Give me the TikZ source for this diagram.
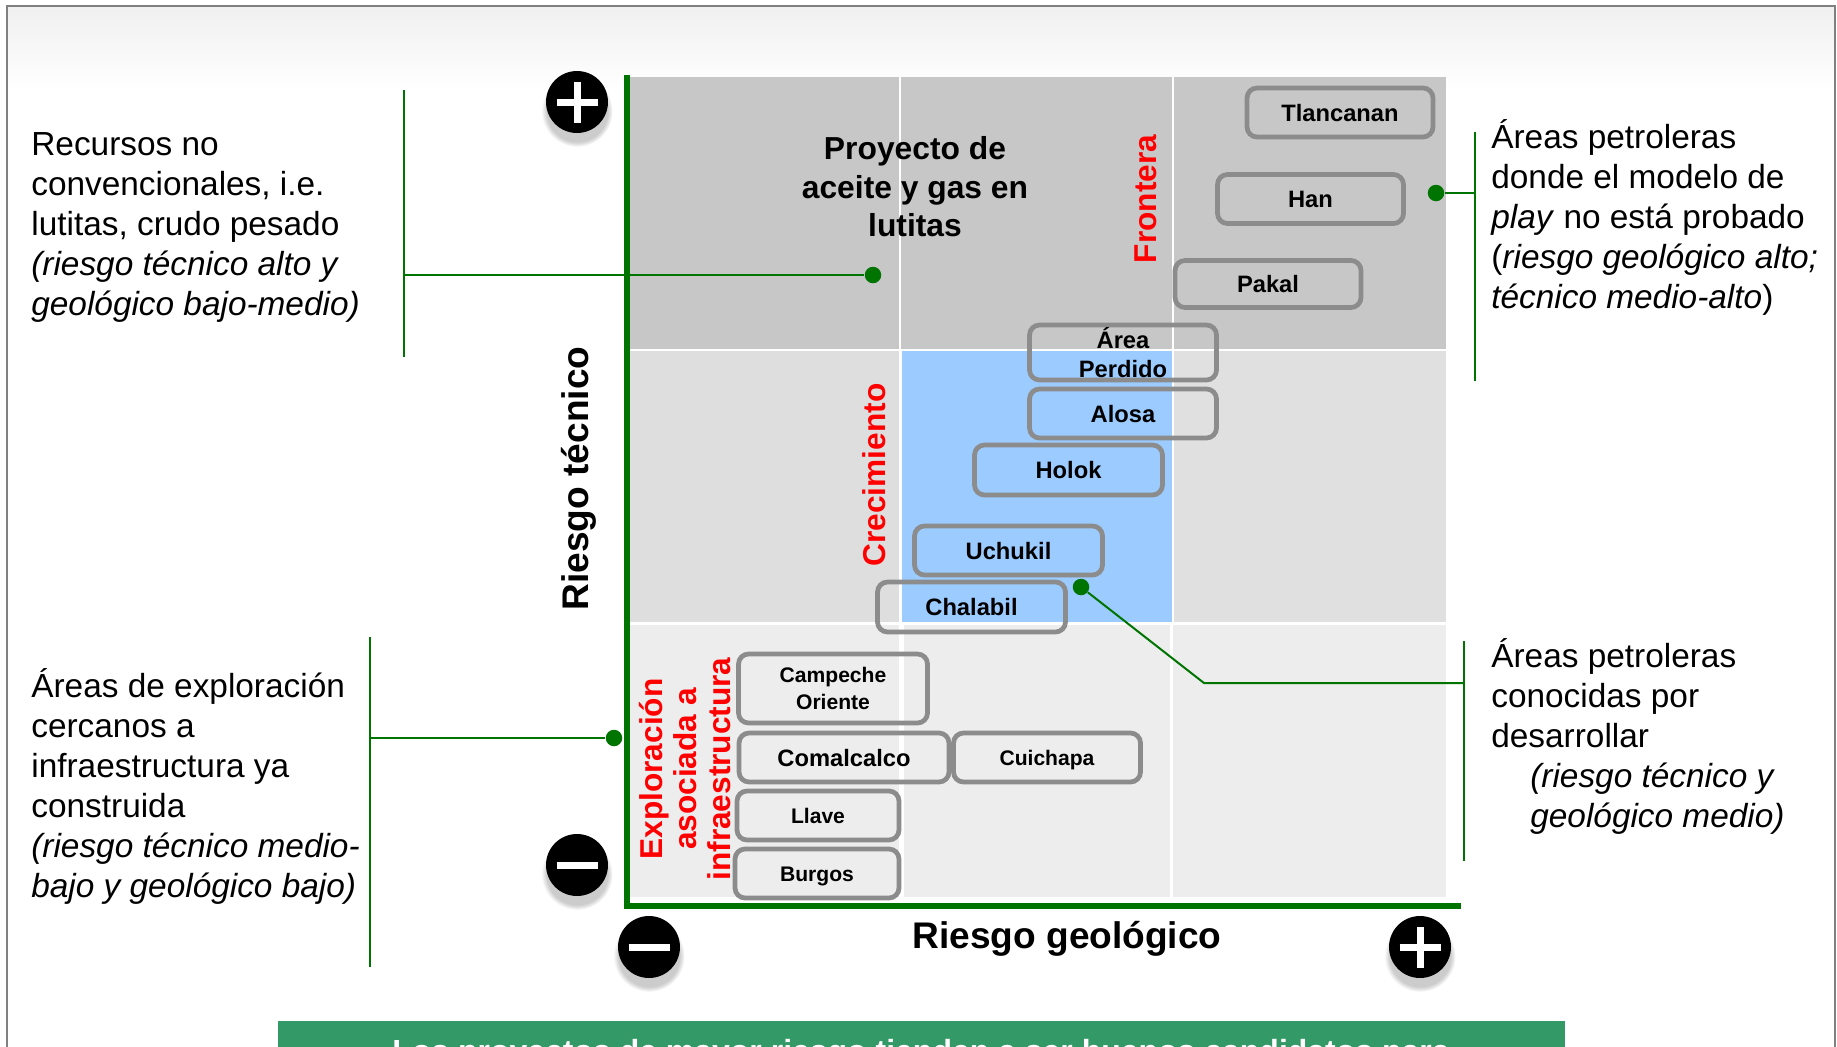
\documentclass[tikz,border=0pt]{standalone}
\usepackage{fontspec}
\setmainfont{Liberation Sans}
\usepackage{tikz}
\usetikzlibrary{shadows}
\definecolor{axisgreen}{HTML}{007400}
\definecolor{boxgray}{HTML}{8C8C8C}
\definecolor{bannergreen}{HTML}{339966}
\definecolor{cellblue}{HTML}{9CCBFF}
\newcommand{\boxline}{0.095cm}
\newcommand{\signbar}{0.14cm}
\tikzset{
  riskbox/.style={draw=boxgray, line width=\boxline, rounded corners=0.2cm, inner sep=0pt, align=center, font=\bfseries\fontsize{13.5}{16.4}\selectfont},
  smallbox/.style={riskbox, font=\bfseries\fontsize{12}{14.9}\selectfont},
  riskline/.style={riskbox, text height=0.34cm, text depth=0pt},
  smallline/.style={smallbox, text height=0.3cm, text depth=0pt},
  sidetext/.style={inner sep=0pt, anchor=west, align=left, font=\fontsize{19}{22.7}\selectfont},
  zonetext/.style={inner sep=0pt, text=red, rotate=90, align=center, font=\bfseries\fontsize{18}{19.6}\selectfont},
  axistext/.style={inner sep=0pt, font=\bfseries\fontsize{21.1}{25}\selectfont},
  leader/.style={draw=axisgreen, line width=0.04cm},
  leaderdot/.style={circle, fill=axisgreen, inner sep=0pt, minimum size=0.33cm},
  signball/.style={circle, fill=black, inner sep=0pt, minimum size=1.24cm,
    circular drop shadow={shadow xshift=0cm, shadow yshift=-0.16cm, shadow scale=1.15, opacity=0.4}},
  signstroke/.style={draw=white, line width=\signbar}
}
\begin{document}
\begin{tikzpicture}[x=0.02cm,y=-0.02cm]
\useasboundingbox (0,0) rectangle (1837,1046);
\clip (0,0) rectangle (1837,1046);
% frame
\fill[white] (0,0) rectangle (1837,1046);
\shade[top color=black!6, bottom color=white] (7,6) rectangle (1835,90);
\draw[black!50, line width=0.05cm] (7,1050) -- (7,6) -- (1835,6) -- (1835,1050);
% cells
\fill[black!22] (630,77) rectangle (899,349);
\fill[black!22] (901,77) rectangle (1172,349);
\fill[black!22] (1174,77) rectangle (1446,349);
\fill[black!13] (630,351) rectangle (899,622);
\fill[cellblue] (901.5,351) rectangle (1172,622);
\fill[black!12] (1174,351) rectangle (1446,622);
\fill[black!7] (630,625) rectangle (899,897);
\fill[black!7] (904,625) rectangle (1170,897);
\fill[black!7] (1173,625) rectangle (1446,897);
% axes
\draw[axisgreen, line width=0.12cm] (627,75) -- (627,906) -- (1461,906);
% leaders
\coordinate (tlbot) at (404,357);
\coordinate (tltop) at (404,90);
\coordinate (tlmid) at (404,275);
\coordinate (blbot) at (370,967);
\coordinate (bltop) at (370,637);
\coordinate (blmid) at (370,738);
\coordinate (trbot) at (1475,381);
\coordinate (trtop) at (1475,132);
\coordinate (trmid) at (1475,193);
\coordinate (brbot) at (1464,861);
\coordinate (brtop) at (1464,641);
\coordinate (brmid) at (1464,683);
\coordinate (brbend) at (1204,683);
\node[leaderdot] (tldot) at (873,275) {};
\node[leaderdot] (bldot) at (614,738) {};
\node[leaderdot] (trdot) at (1436,193) {};
\node[leaderdot] (brdot) at (1081,587) {};
\draw[leader] (tltop) -- (tlbot);
\draw[leader] (tlmid) -- (tldot);
\draw[leader] (bltop) -- (blbot);
\draw[leader] (blmid) -- (bldot);
\draw[leader] (trtop) -- (trbot);
\draw[leader] (trmid) -- (trdot);
\draw[leader] (brtop) -- (brbot);
\draw[leader] (brmid) -- (brbend) -- (brdot);
% boxes
\node[riskline, minimum width=3.72cm, minimum height=0.98cm] (tlancanan) at (1340,112.5) {Tlancanan};
\node[riskline, minimum width=3.72cm, minimum height=0.98cm] (han) at (1310.5,199) {Han};
\node[riskline, minimum width=3.72cm, minimum height=0.94cm] (pakal) at (1268,284) {Pakal};
\node[riskbox, minimum width=3.74cm, minimum height=1.1cm] (perdido) at (1123,352.5) {Área\\Perdido};
\node[riskline, minimum width=3.74cm, minimum height=0.98cm] (alosa) at (1123,413.5) {Alosa};
\node[riskline, minimum width=3.76cm, minimum height=1cm] (holok) at (1068.5,470) {Holok};
\node[riskline, minimum width=3.76cm, minimum height=0.98cm] (uchukil) at (1008.5,550.5) {Uchukil};
\node[riskline, minimum width=3.76cm, minimum height=1cm] (chalabil) at (971.5,607) {Chalabil};
\node[smallbox, minimum width=3.78cm, minimum height=1.38cm] (campeche) at (833,688.5) {Campeche\\Oriente};
\node[riskline, minimum width=4.2cm, minimum height=0.98cm] (comalcalco) at (844,757.5) {Comalcalco};
\node[smallline, minimum width=3.74cm, minimum height=0.98cm] (cuichapa) at (1047,757.5) {Cuichapa};
\node[smallline, minimum width=3.24cm, minimum height=0.98cm] (llave) at (818,815.5) {Llave};
\node[smallline, minimum width=3.28cm, minimum height=0.98cm] (burgos) at (817,873.5) {Burgos};
% zone labels
\node[inner sep=0pt, align=center, font=\bfseries\fontsize{18.1}{21.9}\selectfont] (shale) at (915,187) {Proyecto de\\aceite y gas en\\lutitas};
\node[zonetext] (frontera) at (1146,199) {Frontera};
\node[zonetext] (crecimiento) at (874,475) {Crecimiento};
\node[zonetext] (exploracion) at (685,769) {Exploración\\asociada a\\infraestructura};
% axis labels
\node[axistext, rotate=90] (tecnico) at (578.5,478.5) {Riesgo técnico};
\node[axistext] (geologico) at (1067,938.5) {Riesgo geológico};
% signs
\node[signball] (plusup) at (577,102) {};
\node[signball] (minusup) at (577,865) {};
\node[signball] (minusdown) at (649,947) {};
\node[signball] (plusdown) at (1420,947) {};
\draw[signstroke] ([xshift=-0.41cm]plusup.center) -- ([xshift=0.41cm]plusup.center);
\draw[signstroke] ([yshift=-0.41cm]plusup.center) -- ([yshift=0.41cm]plusup.center);
\draw[signstroke] ([xshift=-0.41cm]minusup.center) -- ([xshift=0.41cm]minusup.center);
\draw[signstroke] ([xshift=-0.41cm]minusdown.center) -- ([xshift=0.41cm]minusdown.center);
\draw[signstroke] ([xshift=-0.41cm]plusdown.center) -- ([xshift=0.41cm]plusdown.center);
\draw[signstroke] ([yshift=-0.41cm]plusdown.center) -- ([yshift=0.41cm]plusdown.center);
% side texts
\node[sidetext] (tltext) at (31,227.5) {Recursos no\\convencionales, i.e.\\lutitas, crudo pesado\\\textit{(riesgo técnico alto y}\\\textit{geológico bajo-medio)}};
\node[sidetext] (bltext) at (31,786.5) {Áreas de exploración\\cercanos a\\infraestructura ya\\construida\\\textit{(riesgo técnico medio-}\\\textit{bajo y geológico bajo)}};
\node[sidetext] (trtext) at (1491,217.5) {Áreas petroleras\\donde el modelo de\\\textit{play} no está probado\\(\textit{riesgo geológico alto;}\\\textit{técnico medio-alto})};
\node[sidetext] (brtext) at (1491,736.5) {Áreas petroleras\\conocidas por\\desarrollar\\\hspace{0.78cm}\textit{(riesgo técnico y}\\\hspace{0.78cm}\textit{geológico medio)}};
% banner
\node[fill=bannergreen, minimum width=25.74cm, minimum height=1.2cm, inner sep=0pt, anchor=north west] (banner) at (278,1021) {};
\node[anchor=base, inner sep=0pt, text=white, font=\bfseries\fontsize{18.2}{22}\selectfont] (bannertext) at (921,1062) {Los proyectos de mayor riesgo tienden a ser buenos candidatos para};
\end{tikzpicture}
\end{document}
